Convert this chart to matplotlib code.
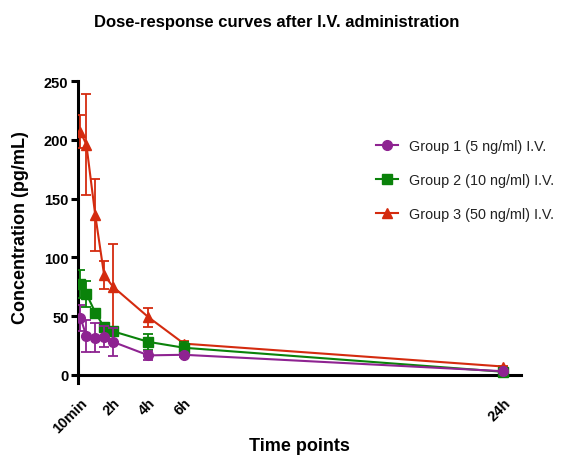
import matplotlib
matplotlib.use("Agg")
import matplotlib.pyplot as plt
from matplotlib.lines import Line2D
import numpy as np

plt.rcParams['font.family'] = ['Liberation Sans', 'DejaVu Sans']

# Data
times_h = [10/60, 0.5, 1, 1.5, 2, 4, 6, 24]
tick_pos = [10/60, 2, 4, 6, 24]
tick_labels = ['10min', '2h', '4h', '6h', '24h']

g1_mean = [48.5, 33, 31.5, 32.5, 28, 16.5, 17, 3]
g1_sd = [11, 14, 12.5, 9, 12, 4, 1.5, 0.5]
g2_mean = [77, 69, 53, 40.5, 37, 28, 23, 2.5]
g2_sd = [12, 11, 3, 3, 4, 6.5, 5, 0.5]
g3_mean = [207, 196, 136, 85, 75, 49, 26.5, 7]
g3_sd = [14, 43, 31, 12, 36, 8, 2, 0.5]

labels = ['Group 1 (5 ng/ml) I.V.', 'Group 2 (10 ng/ml) I.V.', 'Group 3 (50 ng/ml) I.V.']
colors = ['#8E2391', '#0A820A', '#D42B0F']
markers = ['o', 's', '^']

fig = plt.figure(figsize=(5.65, 4.56), dpi=100)
ax = fig.add_axes([0.1372, 0.158, 0.9221 - 0.1372, 0.8195 - 0.158])

series = [(g1_mean, g1_sd), (g2_mean, g2_sd), (g3_mean, g3_sd)]
zorders = [5, 4, 3]
msizes = [7, 6.5, 7]
handles = []
for (m, s), lab, c, mk, z, ms in zip(series, labels, colors, markers, zorders, msizes):
    ax.errorbar(times_h, m, yerr=s, color=c, marker=mk, markersize=ms,
                linewidth=1.5, elinewidth=1.3, capsize=3.6, capthick=1.3,
                zorder=z)
    handles.append(Line2D([], [], color=c, marker=mk, markersize=ms,
                          linewidth=1.5, label=lab))

ax.set_xlim(0, 25)
ax.set_ylim(-7, 250)
ax.set_yticks([0, 50, 100, 150, 200, 250])
ax.set_xticks(tick_pos)
ax.set_xticklabels(tick_labels)

ax.spines['top'].set_visible(False)
ax.spines['right'].set_visible(False)
ax.spines['bottom'].set_position(('data', 0))
ax.spines['left'].set_linewidth(2.2)
ax.spines['bottom'].set_linewidth(2.2)
ax.tick_params(axis='y', length=5, width=2.2, pad=1.5, labelsize=10.5)
ax.tick_params(axis='x', length=0, pad=15, labelsize=10.5)

for t in ax.get_yticklabels():
    t.set_fontweight('bold')
for t in ax.get_xticklabels():
    t.set_fontweight('bold')
    t.set_rotation(45)
    t.set_ha('right')
    t.set_rotation_mode('anchor')

fig.text(21/565, 1 - 228/456, 'Concentration (pg/mL)', fontsize=13, fontweight='bold',
         ha='center', va='center', rotation=90)
fig.text(299.5/565, 1 - 446.7/456, 'Time points', fontsize=13, fontweight='bold',
         ha='center', va='center')
fig.text(0.49, 1 - 22/456, 'Dose-response curves after I.V. administration',
         fontsize=12, fontweight='bold', ha='center', va='center')

leg = ax.legend(handles=handles, loc='upper left',
                bbox_to_anchor=(376/565, 1 - 140/456), bbox_transform=fig.transFigure,
                frameon=False, fontsize=10.4, labelspacing=1.4, handlelength=1.5,
                handletextpad=0.8, borderpad=0, borderaxespad=0)
for t in leg.get_texts():
    t.set_color('#222222')

fig.savefig('out.png', dpi=100)
